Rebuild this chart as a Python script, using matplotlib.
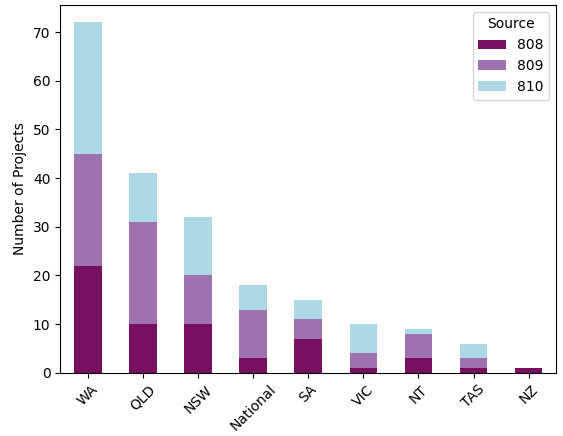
import matplotlib
matplotlib.use("Agg")
import matplotlib.pyplot as plt
import numpy as np

categories = ["WA", "QLD", "NSW", "National", "SA", "VIC", "NT", "TAS", "NZ"]
s808 = [22, 10, 10, 3, 7, 1, 3, 1, 1]
s809 = [23, 21, 10, 10, 4, 3, 5, 2, 0]
s810 = [27, 10, 12, 5, 4, 6, 1, 3, 0]
series = {"808": s808, "809": s809, "810": s810}
colors = {"808": "#76105f", "809": "#9e72ae", "810": "#add8e6"}

fig, ax = plt.subplots(figsize=(5.63, 4.36), dpi=100)
x = np.arange(len(categories))
bottom = np.zeros(len(categories))
for name, vals in series.items():
    ax.bar(x, vals, 0.5, bottom=bottom, color=colors[name], label=name)
    bottom += np.array(vals)
ax.set_xticks(x)
ax.set_xticklabels(categories, rotation=45)
ax.set_xlim(-0.5, len(categories) - 0.5)
ax.set_ylabel("Number of Projects")
ax.legend(title="Source", loc="upper right")
fig.subplots_adjust(left=0.107, right=0.988, top=0.989, bottom=0.145)
fig.savefig("out.png")
